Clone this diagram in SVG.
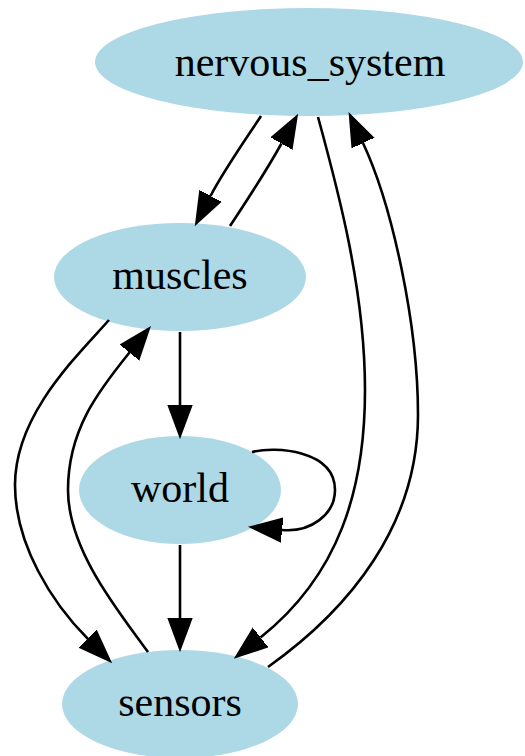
<svg xmlns="http://www.w3.org/2000/svg" width="525" height="756" viewBox="0 0 525 756">
<style>
.node ellipse { fill: #add8e6; stroke: none; }
.node text { font-family: "Liberation Serif", "Times New Roman", serif; font-size: 42px; fill: #000; text-anchor: middle; }
.edges path { fill: none; stroke: #000; stroke-width: 2.6; marker-end: url(#arrow); }
</style>
<defs>
<marker id="arrow" markerUnits="userSpaceOnUse" viewBox="0 -14 34 28" markerWidth="34" markerHeight="28" refX="0" refY="0" orient="auto">
<path d="M0,-11.5 L31,0 L0,11.5 z" fill="#000" stroke="#000" stroke-width="2.2" stroke-linejoin="miter"/>
</marker>
</defs>
<rect width="525" height="756" fill="#fff"/>
<g id="nervous_system" class="node">
<ellipse cx="309" cy="62" rx="214" ry="54"/>
<text x="310" y="76">nervous_system</text>
</g>
<g id="muscles" class="node">
<ellipse cx="180" cy="277" rx="126" ry="54"/>
<text x="180" y="289">muscles</text>
</g>
<g id="world" class="node">
<ellipse cx="180" cy="490" rx="101" ry="54"/>
<text x="180" y="502">world</text>
</g>
<g id="sensors" class="node">
<ellipse cx="180" cy="704" rx="118" ry="54"/>
<text x="180" y="716">sensors</text>
</g>
<g id="connectors" class="edges">
<path id="e_ns_muscles" d="M261,116 C252,130 224.3,169.4 210.5,196"/>
<path id="e_muscles_ns" d="M230,226 C240,211 266.9,169.7 281.5,143.5"/>
<path id="e_ns_sensors" d="M318,117 C338,190 365,290 365,390 C365,490 338.7,575.2 260.5,637.5"/>
<path id="e_sensors_ns" d="M268,667 C349.6,609.2 418,525 418,415 C418,325 392.6,206.4 363,143"/>
<path id="e_muscles_sensors" d="M109,320 C75.75,357.35 15,415 15,485 C15,545 52.65,603.65 88,639"/>
<path id="e_sensors_muscles" d="M148,652 C118.7,611.5 68,550 68,490 C68,430 98,391.4 129.5,352.5"/>
<path id="e_muscles_world" d="M180,332 L180,405"/>
<path id="e_world_world" d="M252,452 C275,446 335,450 335,490 C335,515 309.9,532.6 282,530"/>
<path id="e_world_sensors" d="M180,545 L180,618"/>
</g>
</svg>
